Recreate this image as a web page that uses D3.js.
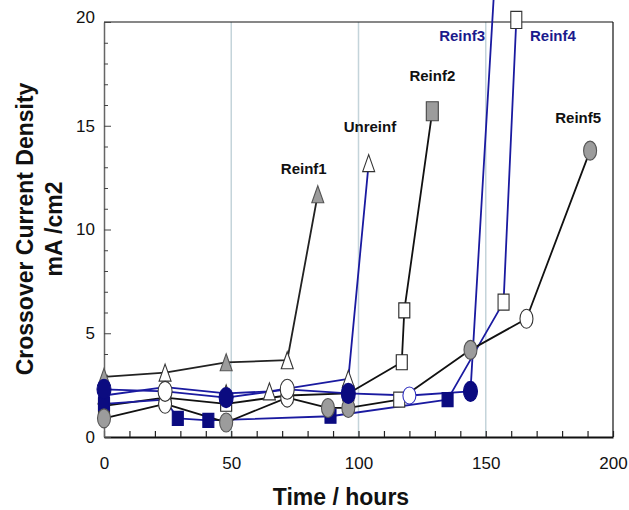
<!DOCTYPE html>
<html><head><meta charset="utf-8">
<script src="https://cdn.jsdelivr.net/npm/d3@7"></script>
<style>
html,body{margin:0;padding:0;background:#fff;}
svg{display:block;font-family:Arial,"Liberation Sans",sans-serif;}
</style></head>
<body><svg id="c" width="629" height="510"></svg>
<script>
// ---- data (time in hours, crossover current density in mA/cm2) ----
const xTicks = [0, 50, 100, 150, 200];
const yTicks = [0, 5, 10, 15, 20];
const gridX = [50, 100, 150];

const reinf1T = [0, 24, 48, 72, 84];
const reinf1V = [2.9, 3.1, 3.6, 3.7, 11.7];

const unreinfT = [0, 24, 48, 65, 96, 104];
const unreinfV = [2.0, 2.4, 2.1, 2.2, 2.8, 13.2];

const reinf2T = [0, 24, 48, 72, 96, 117, 118, 129];
const reinf2V = [1.5, 1.9, 1.6, 2.0, 2.1, 3.6, 6.1, 15.7];

const reinf3T = [0, 24, 48, 72, 96, 120, 144, 154];
const reinf3V = [2.3, 2.2, 1.9, 2.3, 2.1, 2.0, 2.2, 23];

const reinf4T = [0, 24, 29, 41, 89, 135, 157, 162];
const reinf4V = [1.6, 1.8, 0.9, 0.8, 1.0, 1.8, 6.5, 20.1];

const reinf5T = [0, 24, 48, 72, 88, 96, 116, 144, 166, 191];
const reinf5V = [0.9, 1.6, 0.7, 1.9, 1.4, 1.4, 1.8, 4.2, 5.7, 13.8];

const labels = ["Reinf1", "Unreinf", "Reinf2", "Reinf3", "Reinf4", "Reinf5"];

// ---- styles ----
const BLUE = "#1a1aa0", NAVY = "#0b0b80", GRAY = "#9c9c9c";
const series = [
  {name: "Reinf2", t: reinf2T, v: reinf2V, line: "#111", shape: "square", fill: "#fff", stroke: "#222", w: 11, h: 15,
   special: {7: {fill: GRAY, stroke: "#444", w: 12, h: 19}}},
  {name: "Unreinf", t: unreinfT, v: unreinfV, line: BLUE, shape: "triangle", fill: "#fff", stroke: "#333", w: 12, h: 17, special: {}},
  {name: "Reinf1", t: reinf1T, v: reinf1V, line: "#222", shape: "triangle", fill: GRAY, stroke: "#555", w: 12, h: 17,
   special: {1: {fill: "#fff", stroke: "#333"}, 3: {fill: "#fff", stroke: "#333"}}},
  {name: "Reinf4", t: reinf4T, v: reinf4V, line: BLUE, shape: "square", fill: NAVY, stroke: NAVY, w: 11, h: 14,
   special: {1: {fill: "#fff", stroke: "#333"}, 6: {fill: "#fff", stroke: "#333", h: 16}, 7: {fill: "#fff", stroke: "#333", h: 17}}},
  {name: "Reinf5", t: reinf5T, v: reinf5V, line: "#111", shape: "ellipse", fill: GRAY, stroke: "#555", w: 13, h: 19,
   special: {1: {fill: "#fff", stroke: "#333"}, 3: {fill: "#fff", stroke: "#333"}, 6: {fill: "#fff", stroke: "#333", shape: "square", w: 11, h: 15}, 8: {fill: "#fff", stroke: "#333"}}},
  {name: "Reinf3", t: reinf3T, v: reinf3V, line: BLUE, shape: "ellipse", fill: NAVY, stroke: NAVY, w: 14, h: 20,
   special: {1: {fill: "#fff", stroke: "#333"}, 3: {fill: "#fff", stroke: "#333"}, 5: {fill: "#fff", stroke: "#3030c0", w: 13, h: 17}}}
];
const labelPos = {
  Reinf1: {t: 78.5, v: 12.95, color: "#111"},
  Unreinf: {t: 104.5, v: 14.95, color: "#111"},
  Reinf2: {t: 129, v: 17.4, color: "#111"},
  Reinf3: {t: 140.7, v: 19.35, color: "#1a1a8c"},
  Reinf4: {t: 176.4, v: 19.35, color: "#1a1a8c"},
  Reinf5: {t: 186.3, v: 15.4, color: "#111"}
};

const svg = d3.select("#c");
const x = d3.scaleLinear().domain([0, 200]).range([104, 613]);
const y = d3.scaleLinear().domain([0, 20]).range([437, 22]);

// grid lines
svg.append("g").selectAll("line").data(gridX).join("line")
  .attr("x1", d => x(d)).attr("x2", d => x(d)).attr("y1", y(0)).attr("y2", y(20))
  .attr("stroke", "#c4d4da").attr("stroke-width", 1.5);

// frame (top/right)
svg.append("line").attr("x1", x(0)).attr("x2", x(200)).attr("y1", y(20)).attr("y2", y(20)).attr("stroke", "#111").attr("stroke-width", 1.2);
svg.append("line").attr("x1", x(200)).attr("x2", x(200)).attr("y1", y(20)).attr("y2", y(0)).attr("stroke", "#111").attr("stroke-width", 1.2);

// x axis ticks (inward)
const xa = svg.append("g").attr("transform", `translate(0,${y(0)})`)
  .call(d3.axisBottom(x).tickValues(d3.range(0, 201, 10)).tickSizeInner(-6).tickSizeOuter(0).tickFormat(""));
xa.select(".domain").attr("stroke", "#111").attr("stroke-width", 2);
xa.selectAll(".tick line").attr("stroke", "#222").attr("stroke-width", 1.2);
// x labels
const xl = svg.append("g").attr("transform", `translate(0,${y(0)})`)
  .call(d3.axisBottom(x).tickValues(xTicks).tickSize(0).tickPadding(20));
xl.select(".domain").remove();
xl.selectAll("text").attr("font-size", 17).attr("fill", "#111").attr("font-family", "Arial, 'Liberation Sans', sans-serif");

// y axis
const ya = svg.append("g").attr("transform", `translate(${x(0)},0)`)
  .call(d3.axisLeft(y).tickValues(d3.range(0, 21, 1)).tickSizeInner(-4).tickSizeOuter(0).tickFormat(""));
ya.select(".domain").attr("stroke", "#666").attr("stroke-width", 1.5);
ya.selectAll(".tick line").attr("stroke", "#444").attr("stroke-width", 1)
  .attr("x2", d => d % 5 === 0 ? 7 : 4);
const yl = svg.append("g").attr("transform", `translate(${x(0)},0)`)
  .call(d3.axisLeft(y).tickValues(yTicks).tickSize(0).tickPadding(9));
yl.select(".domain").remove();
yl.selectAll("text").attr("font-size", 17).attr("fill", "#111").attr("font-family", "Arial, 'Liberation Sans', sans-serif")
  .attr("dy", d => d === 20 ? "0.05em" : "0.32em");

// axis titles
svg.append("text").attr("x", 341).attr("y", 505).attr("text-anchor", "middle")
  .attr("font-size", 23).attr("font-weight", "bold").attr("fill", "#111").text("Time / hours");
const yt = svg.append("g").attr("transform", "translate(0,229) rotate(-90)");
yt.append("text").attr("x", 0).attr("y", 33).attr("text-anchor", "middle")
  .attr("font-size", 23).attr("font-weight", "bold").attr("fill", "#111").text("Crossover Current Density");
yt.append("text").attr("x", 0).attr("y", 62).attr("text-anchor", "middle")
  .attr("font-size", 23).attr("font-weight", "bold").attr("fill", "#111").text("mA /cm2");

// marker path
function markerPath(shape, w, h) {
  if (shape === "triangle") return `M0,${-h/2}L${w/2},${h/2}L${-w/2},${h/2}Z`;
  if (shape === "square") return `M${-w/2},${-h/2}H${w/2}V${h/2}H${-w/2}Z`;
  const rx = w/2, ry = h/2;
  return `M${-rx},0A${rx},${ry} 0 1,0 ${rx},0A${rx},${ry} 0 1,0 ${-rx},0Z`;
}

const line = d3.line().x(d => x(d[0])).y(d => y(d[1]));
const gLines = svg.append("g");
const gMarks = svg.append("g");
series.forEach(s => {
  const pts = s.t.map((t, i) => [t, s.v[i], i]);
  gLines.append("path").datum(pts).attr("d", line).attr("fill", "none")
    .attr("stroke", s.line).attr("stroke-width", 1.8).attr("stroke-linejoin", "round");
});
series.forEach(s => {
  const pts = s.t.map((t, i) => [t, s.v[i], i]);
  gMarks.append("g").selectAll("path").data(pts).join("path")
    .attr("transform", d => `translate(${x(d[0])},${y(d[1])})`)
    .attr("d", d => {
      const o = s.special[d[2]] || {};
      return markerPath(o.shape || s.shape, o.w || s.w, o.h || s.h);
    })
    .attr("fill", d => (s.special[d[2]] || {}).fill || s.fill)
    .attr("stroke", d => (s.special[d[2]] || {}).stroke || s.stroke)
    .attr("stroke-width", 1.1);
});

// series labels
svg.append("g").selectAll("text").data(labels).join("text")
  .attr("x", d => x(labelPos[d].t)).attr("y", d => y(labelPos[d].v))
  .attr("text-anchor", "middle").attr("dominant-baseline", "central")
  .attr("font-size", 15).attr("font-weight", "bold")
  .attr("fill", d => labelPos[d].color).text(d => d);
</script></body></html>
